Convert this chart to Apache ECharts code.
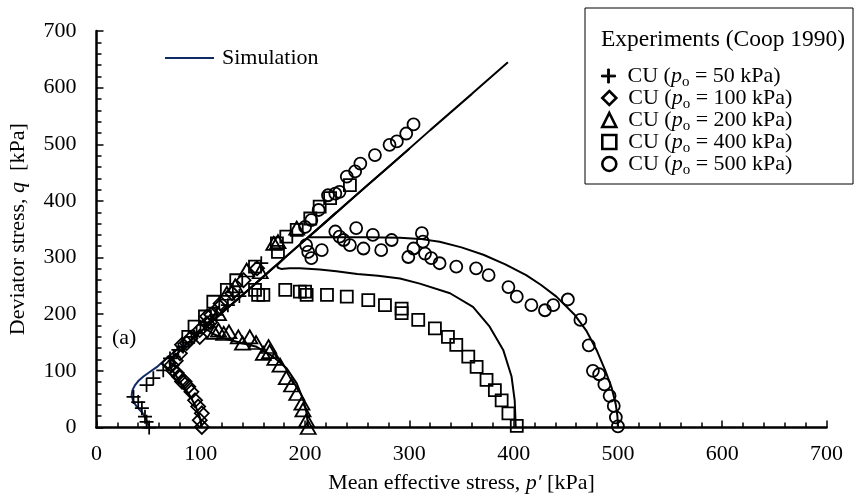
<!DOCTYPE html>
<html>
<head>
<meta charset="utf-8">
<script src="https://cdn.jsdelivr.net/npm/echarts@6/dist/echarts.min.js"></script>
<style>
html,body{margin:0;padding:0;background:#fff;}
#main{width:854px;height:497px;}
</style>
</head>
<body>
<div id="main"></div>
<script>
// simulation paths [p', q]
var sim50 = [[50.5,0],[48,13],[44,26],[38.5,37],[35,47],[33.7,57],[34.5,66],[37,75],[40,82],[45,90],[51,98],[58,107],[67,122],[76,136],[90,153],[110,186],[130,218],[150,250],[170,283]];
var sim100 = [[101,0],[99,18],[95,38],[89,58],[82,76],[76,92],[71,106],[70,114],[74,124],[84,143],[98,166],[120,202],[150,250],[180,299]];
var sim200 = [[203,0],[201.5,25],[198.5,48],[192,78],[182.5,104],[169.5,125],[153.5,142.5],[134.5,151.5],[121.5,157.5],[112,165],[105,174],[108,182],[120,202],[140,234],[170,283],[200,331],[230,380]];
var sim400 = [[402,0],[401.5,25],[401,48],[398,90],[390,137],[377,178],[361,213],[339,237],[310,254],[291,263],[270,268],[250,271],[230,276],[214,279],[195,281],[185,281],[177,280],[174,282],[173,286],[180,299],[190,315],[220,363],[260,428],[300,492]];
var sim500 = [[500,0],[499.5,20],[498,40],[494,70],[488,100],[480,135],[470,170],[458,200],[441,231],[426,252],[412,269],[392,288],[371,305],[350,318],[329,328],[310,333],[291,335],[260,336],[230,336],[210,336],[203,336],[210,347],[240,396],[280,460],[320,525],[360,589],[394.5,645]];

// experiments (Coop 1990)
var exp50 = [[50.5,0],[48,10],[46.5,19],[43.5,34],[40,45],[35.5,54],[48,75],[54.5,87],[64,101],[70.5,122],[74,125],[78.5,137],[83,143],[91,160],[96,166],[104,181],[115,199],[126,216],[137,232],[158,290]];
var exp100 = [[101,1],[99,13],[101,25],[97.5,37],[94.5,48],[91,63],[88,72],[84.5,81],[82,81],[79,90],[77,96],[73.5,101],[72,110],[69,113],[76,118],[80,131],[82,146],[86.5,149],[90,157],[99,160],[99,172],[106,184],[109,186],[106,196],[110,199],[118,213],[119,219],[130,237],[141,260],[154,281]];
var exp200 = [[203,0],[201.5,13],[198,31],[197,43],[192,60],[187,75],[182,88],[176,110],[171,122],[166,134],[165,143],[160,131],[153,150],[147,160],[140,149],[136,160],[127,169],[122,166],[117,172],[113,168],[117,201],[125,237],[133,250],[144,278],[157,275],[170,325],[174,328],[192,352]];
var exp400 = [[403,3],[395,25],[388.5,48],[382,66],[374,84],[364.5,107],[356.5,125],[345,146],[337,160],[324.5,175],[308.5,190],[292.6,202],[292.6,210],[276.6,216],[260.6,225],[240,231],[221,234],[201.5,234],[200,240],[195,240],[181,243],[160,234],[155,234],[152,243],[152,284],[134,260],[125,243],[112,222],[104,196],[94,178],[88,160],[173,325],[174,310],[182,337],[192,349],[205,369],[214,390],[224,405],[243,428]];
var exp500 = [[500,2],[498,18],[496,38],[492,56],[487,76],[482,94],[476,100],[472,145],[464,190],[452,226],[438,216],[430,207],[417,216],[403,231],[395,248],[376,269],[364,281],[345,284],[329,290],[321,299],[315,307],[299,301],[304,316],[313,328],[312,343],[283,331],[273,313],[265,340],[256,316],[249,352],[243,322],[237,331],[233,337],[229,346],[216,313],[206,299],[203,310],[201,322],[200,354],[206,366],[213,384],[222,410],[229,413],[233,416],[240,443],[248,452],[253,466],[267,481],[281,499],[288,505],[297,519],[304,535]];

var expNames = ['CU (po = 50 kPa)','CU (po = 100 kPa)','CU (po = 200 kPa)','CU (po = 400 kPa)','CU (po = 500 kPa)'];

var FONT = 'Liberation Serif';
var plusPath = 'path://M-0.75,-6L0.75,-6L0.75,-0.75L6,-0.75L6,0.75L0.75,0.75L0.75,6L-0.75,6L-0.75,0.75L-6,0.75L-6,-0.75L-0.75,-0.75Z';
var hollow = {color:'rgba(0,0,0,0)', borderColor:'#000', borderWidth:1.8, opacity:1};

var chart = echarts.init(document.getElementById('main'));

function simSeries(data, color){
	return {
		name:'Simulation', type:'line', data:data, symbol:'none', z:2,
		lineStyle:{color:color, width:2}, itemStyle:{color:color},
		animation:false, silent:true
	};
}
function expSeries(name, data, symbol, size, style){
	return {
		name:name, type:'scatter', data:data, symbol:symbol, symbolSize:size, z:3,
		itemStyle:style, animation:false
	};
}

var richText = {
	a:{fontFamily:FONT, fontSize:22, color:'#000', padding:[0,0,0,7]},
	n:{fontFamily:FONT, fontSize:22, color:'#000'},
	i:{fontFamily:FONT, fontSize:22, color:'#000', fontStyle:'italic'},
	s:{fontFamily:FONT, fontSize:15, color:'#000', padding:[12,0,0,0]}
};
function legendFmt(name){
	var v = name.match(/= (\d+)/)[1];
	return '{a|CU (}{i|p}{s|o}{n| = ' + v + ' kPa)}';
}

var rowY = [75,97,119,141,163];
var legends = [{
	data:['Simulation'], left:165, top:47, icon:'rect', itemWidth:49, itemHeight:2, padding:0,
	selectedMode:false, textStyle:{fontFamily:FONT, fontSize:22, color:'#000', padding:[0,0,0,3]}
}];
for (var i = 0; i < expNames.length; i++) {
	legends.push({
		data:[expNames[i]], orient:'vertical', left:601, top:rowY[i] - 10,
		itemWidth:14, itemHeight:14, padding:0, selectedMode:false,
		itemStyle:{borderWidth: i == 0 ? 1 : 2.6, borderColor:'#000', opacity:1},
		formatter:legendFmt, textStyle:{rich:richText}
	});
}

var option = {
	animation:false,
	backgroundColor:'#fff',
	grid:{left:96.5, right:27.5, top:31, bottom:69.5, outerBoundsMode:'none', containLabel:false},
	legend:legends,
	graphic:[
		{type:'rect', shape:{x:585, y:8, width:268, height:176}, style:{fill:'#fff', stroke:'#000', lineWidth:1}, z:1},
		{type:'text', left:601, top:28, z:5, style:{text:'Experiments (Coop 1990)', font:'23.5px "Liberation Serif"', fill:'#000'}},
		{type:'text', left:112, top:327, z:5, style:{text:'(a)', font:'22px "Liberation Serif"', fill:'#000'}}
	],
	xAxis:{
		type:'value', min:0, max:700, interval:100,
		name:'{n|Mean effective stress, }{i|p\u2032}{n| [kPa]}',
		nameLocation:'middle', nameGap:45,
		nameTextStyle:{rich:richText},
		axisLine:{lineStyle:{color:'#000', width:2.5}},
		axisTick:{inside:true, length:7, lineStyle:{color:'#000', width:1.5}},
		minorTick:{show:true, splitNumber:5, length:5, lineStyle:{color:'#000', width:1.5}},
		splitLine:{show:false},
		axisLabel:{fontFamily:FONT, fontSize:22, color:'#000', margin:16}
	},
	yAxis:{
		type:'value', min:0, max:700, interval:100,
		name:'{n|Deviator stress, }{i|q}{n|  [kPa]}',
		nameLocation:'middle', nameGap:67,
		nameTextStyle:{rich:richText},
		axisLine:{show:true, lineStyle:{color:'#000', width:2.5}},
		axisTick:{show:true, inside:true, length:7, lineStyle:{color:'#000', width:1.5}},
		minorTick:{show:true, splitNumber:5, length:5, lineStyle:{color:'#000', width:1.5}},
		splitLine:{show:false},
		axisLabel:{fontFamily:FONT, fontSize:22, color:'#000', margin:20}
	},
	series:[
		simSeries(sim50, '#0f2a66'),
		simSeries(sim100, '#000'),
		simSeries(sim200, '#000'),
		simSeries(sim400, '#000'),
		simSeries(sim500, '#000'),
		expSeries(expNames[0], exp50, plusPath, 14, {color:'#000', opacity:1}),
		expSeries(expNames[1], exp100, 'diamond', 14, hollow),
		expSeries(expNames[2], exp200, 'triangle', [15,13], hollow),
		expSeries(expNames[3], exp400, 'rect', 12, hollow),
		expSeries(expNames[4], exp500, 'circle', 12, hollow)
	]
};
chart.setOption(option);
</script>
</body>
</html>
